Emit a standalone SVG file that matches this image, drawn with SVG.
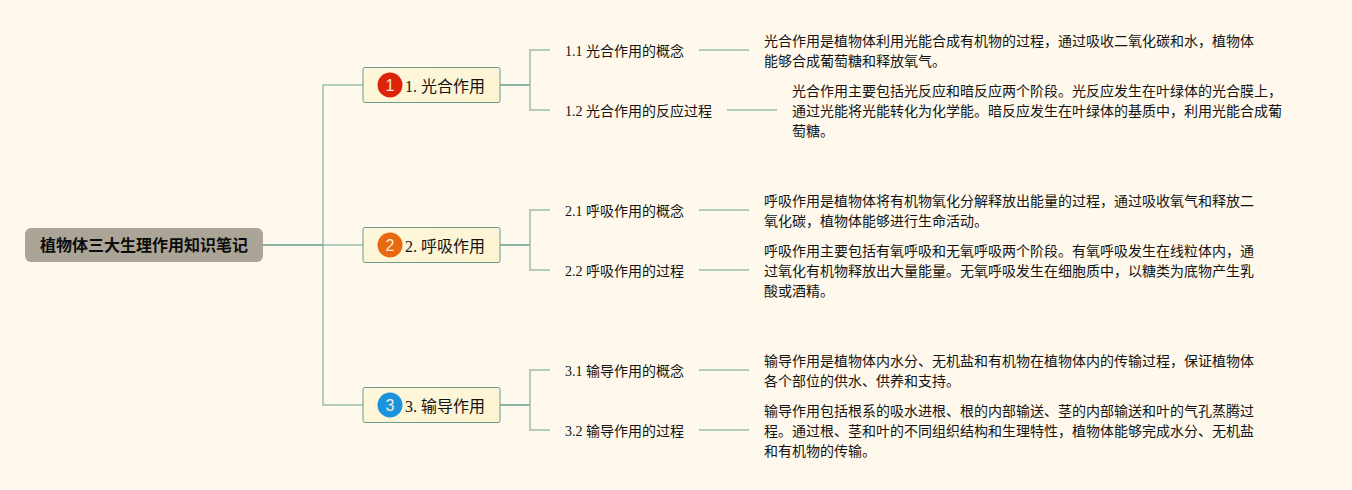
<svg xmlns="http://www.w3.org/2000/svg" width="1352" height="490" viewBox="0 0 1352 490">
<defs>
<linearGradient id="ng" x1="0" y1="0" x2="1" y2="1"><stop offset="0" stop-color="#fdf7dc"/><stop offset="1" stop-color="#fdf3d0"/></linearGradient>
</defs>
<style>
text{font-family:"Liberation Serif","Noto Sans CJK SC",serif;fill:#141414}
.root{fill:#aaa596}
.rt{font-size:16px;font-weight:bold;fill:#0c0c0c}
.n{fill:url(#ng);stroke:#6a9c8e;stroke-width:1}
.nt{font-size:16px}
.lt{font-size:14px}
.bt{font-size:14px}
.ic{font-family:"Liberation Sans","Noto Sans",sans-serif;font-size:16px;fill:#fde9d8;text-anchor:middle}
.c{fill:none;stroke:#9cbdaf;stroke-width:1.5}
.d{fill:none;stroke:#659c8d;stroke-width:1.7}
</style>
<rect width="1352" height="490" fill="#fef9ec"/>
<g id="connectors">
<path class="c" d="M363 85H323V405H363M323 245H363"/>
<path class="d" d="M263 245H323"/>
<path class="d" d="M500 85H530M500 245H530M500 405H530"/>
<path class="c" d="M550 50H530V110H550M699 50H749M727 110H777"/>
<path class="c" d="M550 210H530V270H550M699 210H749M699 270H749"/>
<path class="c" d="M550 370H530V430H550M699 370H749M699 430H749"/>
</g>
<g id="root"><rect class="root" x="25" y="228" width="238" height="34" rx="6"/><text class="rt" x="40" y="251">植物体三大生理作用知识笔记</text></g>
<g id="n1"><rect class="n" x="363" y="67.5" width="137" height="35" rx="2"/><circle cx="390" cy="85" r="12.5" fill="#dd2308"/><text class="ic" x="390" y="91">1</text><text class="nt" x="405" y="92">1. 光合作用</text></g>
<g id="n2"><rect class="n" x="363" y="227.5" width="137" height="35" rx="2"/><circle cx="390" cy="245" r="12.5" fill="#e8690f"/><text class="ic" x="390" y="251">2</text><text class="nt" x="405" y="252">2. 呼吸作用</text></g>
<g id="n3"><rect class="n" x="363" y="387.5" width="137" height="35" rx="2"/><circle cx="390" cy="405" r="12.5" fill="#1a94dc"/><text class="ic" x="390" y="411">3</text><text class="nt" x="405" y="412">3. 输导作用</text></g>
<g id="l11"><text class="lt" x="565" y="56">1.1 光合作用的概念</text></g>
<g id="l12"><text class="lt" x="565" y="116">1.2 光合作用的反应过程</text></g>
<g id="l21"><text class="lt" x="565" y="216">2.1 呼吸作用的概念</text></g>
<g id="l22"><text class="lt" x="565" y="276">2.2 呼吸作用的过程</text></g>
<g id="l31"><text class="lt" x="565" y="376">3.1 输导作用的概念</text></g>
<g id="l32"><text class="lt" x="565" y="436">3.2 输导作用的过程</text></g>
<g id="b11"><text class="bt" x="764" y="46">光合作用是植物体利用光能合成有机物的过程，通过吸收二氧化碳和水，植物体</text><text class="bt" x="764" y="66">能够合成葡萄糖和释放氧气。</text></g>
<g id="b12"><text class="bt" x="792" y="96">光合作用主要包括光反应和暗反应两个阶段。光反应发生在叶绿体的光合膜上，</text><text class="bt" x="792" y="116">通过光能将光能转化为化学能。暗反应发生在叶绿体的基质中，利用光能合成葡</text><text class="bt" x="792" y="136">萄糖。</text></g>
<g id="b21"><text class="bt" x="764" y="206">呼吸作用是植物体将有机物氧化分解释放出能量的过程，通过吸收氧气和释放二</text><text class="bt" x="764" y="226">氧化碳，植物体能够进行生命活动。</text></g>
<g id="b22"><text class="bt" x="764" y="256">呼吸作用主要包括有氧呼吸和无氧呼吸两个阶段。有氧呼吸发生在线粒体内，通</text><text class="bt" x="764" y="276">过氧化有机物释放出大量能量。无氧呼吸发生在细胞质中，以糖类为底物产生乳</text><text class="bt" x="764" y="296">酸或酒精。</text></g>
<g id="b31"><text class="bt" x="764" y="366">输导作用是植物体内水分、无机盐和有机物在植物体内的传输过程，保证植物体</text><text class="bt" x="764" y="386">各个部位的供水、供养和支持。</text></g>
<g id="b32"><text class="bt" x="764" y="416">输导作用包括根系的吸水进根、根的内部输送、茎的内部输送和叶的气孔蒸腾过</text><text class="bt" x="764" y="436">程。通过根、茎和叶的不同组织结构和生理特性，植物体能够完成水分、无机盐</text><text class="bt" x="764" y="456">和有机物的传输。</text></g>
</svg>
